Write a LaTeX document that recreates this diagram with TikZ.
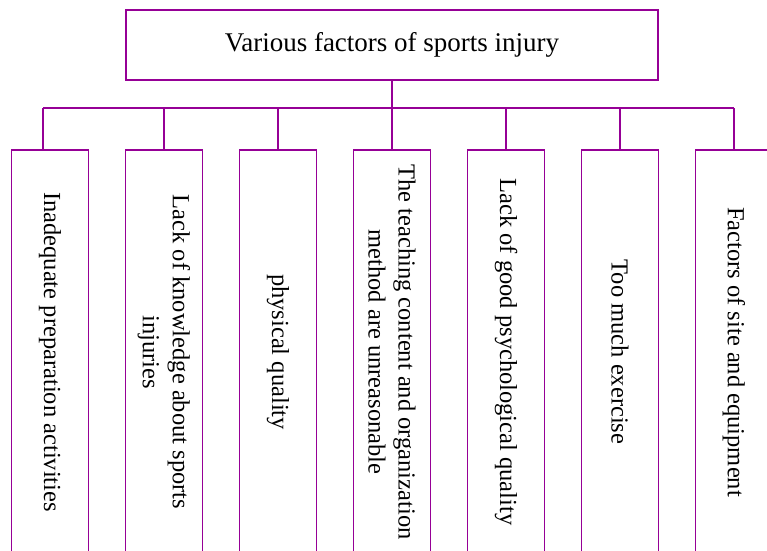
\documentclass[tikz,border=0pt]{standalone}
\usepackage{fontspec}
\setmainfont{Liberation Serif}
\usetikzlibrary{calc}
\definecolor{frame}{RGB}{150,0,150}
\begin{document}
\begin{tikzpicture}[x=1pt,y=-1pt,
  box/.style={draw=frame,line width=1.8pt,inner sep=0pt},
  topbox/.style={box,minimum width=532pt,minimum height=70pt,font=\fontsize{27}{30}\selectfont},
  factor/.style={box,rotate=-90,minimum width=404pt,minimum height=77pt,align=center,font=\fontsize{24.5}{30}\selectfont},
  link/.style={draw=frame,line width=1.8pt}]
\useasboundingbox (0,0) rectangle (767,550);
\clip (0,0) rectangle (767,550);
\node[topbox] (top) at (392,45) {Various factors of sports injury};
\node[factor] (b1) at (50,352) {Inadequate preparation activities};
\node[factor] (b2) at (164,352) {Lack of knowledge about sports\\injuries};
\node[factor] (b3) at (278,352) {physical quality};
\node[factor] (b4) at (392,352) {The teaching content and organization\\method are unreasonable};
\node[factor] (b5) at (506,352) {Lack of good psychological quality};
\node[factor] (b6) at (620,352) {Too much exercise};
\node[factor] (b7) at (734,352) {Factors of site and equipment};
\coordinate (busL) at (43,108);
\coordinate (busR) at (734,108);
\draw[link] (busL) -- (busR);
\draw[link] (top.south) -- (top.south |- busL);
\draw[link] (busL) -- ($(b1.west)+(-7,0)$);
\foreach \i in {2,...,7}{
  \draw[link] (b\i.west) -- (b\i.west |- busL);
}
\end{tikzpicture}
\end{document}
